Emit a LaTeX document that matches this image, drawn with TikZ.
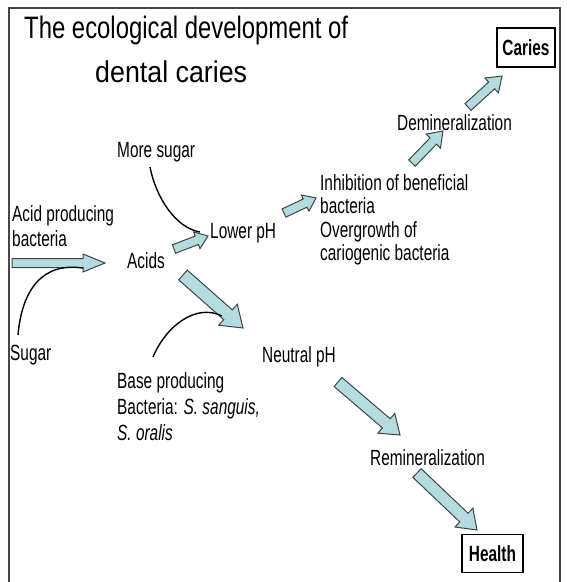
\documentclass[tikz,border=0pt]{standalone}
\usepackage{fontspec}
\setmainfont{Liberation Sans}
\usepackage{graphicx}
\usetikzlibrary{calc}
\definecolor{arrfill}{RGB}{180,220,224}
\definecolor{arrline}{RGB}{60,70,70}
\definecolor{framec}{RGB}{70,70,70}
\newcommand{\sq}[1]{\scalebox{0.70}[1]{#1}}
\newcommand{\blockarr}[5]{%
  \path let \p1=(#1), \p2=(#2) in
    \pgfextra{\pgfmathsetmacro\barang{atan2(\y2-\y1,\x2-\x1)}%
      \pgfmathsetmacro\barlen{veclen(\x2-\x1,\y2-\y1)}%
      \global\let\barang\barang\global\let\barlen\barlen};
  \begin{scope}[shift={(#1)}, rotate=\barang]
    \draw[barr] (0,-#3) -- ({\barlen-#5},-#3) -- ({\barlen-#5},-#4) -- (\barlen,0)
      -- ({\barlen-#5},#4) -- ({\barlen-#5},#3) -- (0,#3) -- cycle;
  \end{scope}}
\begin{document}
\begin{tikzpicture}[x=1pt,y=-1pt,
  txt/.style={inner sep=0pt, anchor=base west, font=\fontsize{22}{24}\selectfont},
  box/.style={draw=black, line width=1.2pt, inner sep=0pt, minimum width=#1,
    font=\bfseries\fontsize{22}{24}\selectfont},
  curve/.style={line width=1.4pt, black},
  barr/.style={draw=arrline, fill=arrfill, line width=1pt, line join=miter}]
\useasboundingbox (0,0) rectangle (566,582);
\fill[white] (0,0) rectangle (566,582);
\draw[framec, line width=1.5pt] (9,590) -- (9,8) -- (560,8) -- (560,590);

% title
\node[txt] (t1) at (24,38) {\resizebox{324pt}{\height}{\fontsize{31}{34}\selectfont The ecological development of}};
\node[txt] (t2) at (95,82) {\resizebox{152pt}{\height}{\fontsize{30}{34}\selectfont dental caries}};

% text nodes
\node[txt, font=\fontsize{22}{25}\selectfont] (acidprod) at (12,221) {\sq{\begin{tabular}[t]{@{}l@{}}Acid producing\\bacteria\end{tabular}}};
\node[txt] (acids) at (127,268) {\sq{Acids}};
\node[txt] (sugar) at (10,360) {\sq{Sugar}};
\node[txt] (lower) at (210,238) {\sq{Lower pH}};
\node[txt] (more) at (117,157) {\sq{More sugar}};
\node[txt, font=\fontsize{22}{23.5}\selectfont] (inhib) at (320,190) {\sq{\begin{tabular}[t]{@{}l@{}}Inhibition of beneficial\\bacteria\\Overgrowth of\\cariogenic bacteria\end{tabular}}};
\node[txt] (demin) at (397,130) {\sq{Demineralization}};
\node[txt] (neutral) at (262,362) {\sq{Neutral pH}};
\node[txt, font=\fontsize{22}{26}\selectfont] (base) at (117,388) {\sq{\begin{tabular}[t]{@{}l@{}}Base producing\\Bacteria: \textit{S. sanguis,}\\\textit{S. oralis}\end{tabular}}};
\node[txt] (remin) at (370,465) {\sq{Remineralization}};
\node[box=58pt, minimum height=39pt] (caries) at (526,47.5) {\sq{Caries}};
\node[box=61pt, minimum height=38pt] (health) at (492.5,553.5) {\sq{Health}};

% arrow end points
\coordinate (aS) at (12,263);   \coordinate (aE) at (105,263);
\coordinate (bS) at (174,249);  \coordinate (bE) at (208,236);
\coordinate (cS) at (284,213);  \coordinate (cE) at (316,198);
\coordinate (dS) at (412,163);  \coordinate (dE) at (443,131);
\coordinate (eS) at (468,107);  \coordinate (eE) at (502,76);
\coordinate (fS) at (183,275);  \coordinate (fE) at (243,328);
\coordinate (gS) at (338,382);  \coordinate (gE) at (400,435);
\coordinate (hS) at (417,473);  \coordinate (hE) at (477,530);

\blockarr{aS}{aE}{4.5}{9}{22}
\blockarr{bS}{bE}{4.5}{9}{12}
\blockarr{cS}{cE}{4.5}{9}{12}
\blockarr{dS}{dE}{4.5}{10}{14}
\blockarr{eS}{eE}{4.5}{10}{14}
\blockarr{fS}{fE}{6.5}{14}{20}
\blockarr{gS}{gE}{6}{13}{18}
\blockarr{hS}{hE}{6}{13}{18}

% curves
\coordinate (sugC1) at (18,335);  \coordinate (sugC2) at (83,268);
\coordinate (morC1) at (150,167); \coordinate (morC2) at (200,232);
\coordinate (basC1) at (153,357); \coordinate (basC2) at (222,316);
\draw[curve] (sugC1) .. controls (22,290) and (42,262) .. (sugC2);
\draw[curve] (morC1) .. controls (156,198) and (176,228) .. (morC2);
\draw[curve] (basC1) .. controls (166,326) and (196,303) .. (basC2);
\end{tikzpicture}
\end{document}
